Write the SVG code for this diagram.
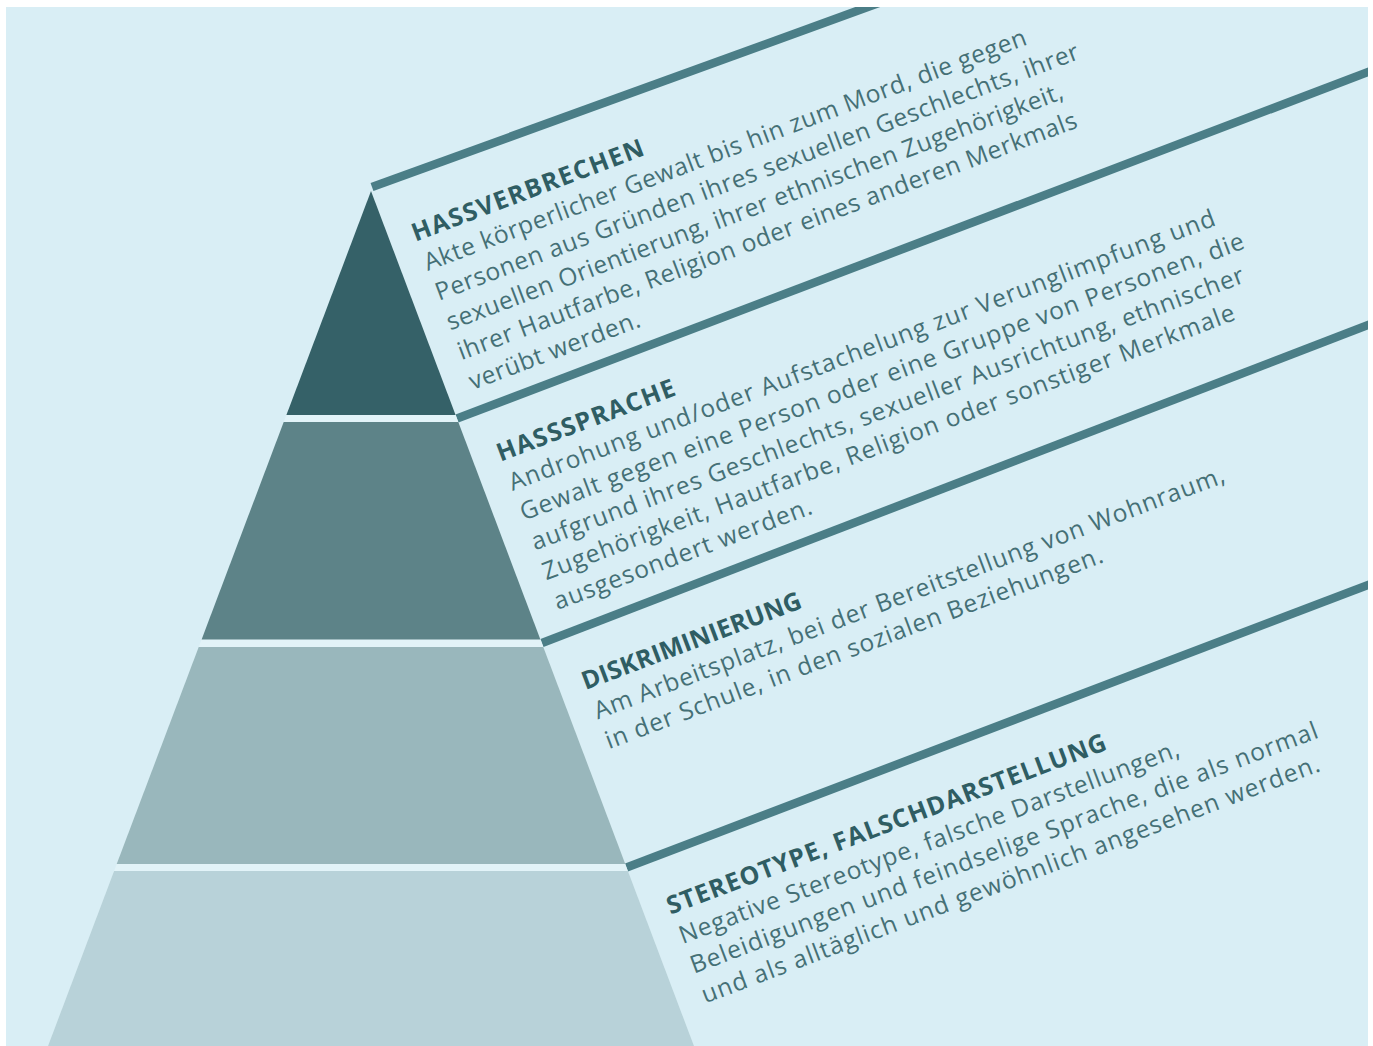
<svg xmlns="http://www.w3.org/2000/svg" width="1373" height="1046" viewBox="0 0 1373 1046">
  <defs>
    <clipPath id="panelClip">
      <rect x="6" y="7" width="1362" height="1039"/>
    </clipPath>
    <style>
      .t { font-family: "Open Sans", "Lato", sans-serif; font-weight: 700; font-size: 25px; fill: #2f5d63; }
      .b { font-family: "Open Sans", "Lato", sans-serif; font-weight: 400; font-size: 24.5px; fill: #457076; }
      .div { stroke: #4b7e87; stroke-width: 8.5; fill: none; stroke-linecap: butt; }
    </style>
  </defs>

  <rect x="0" y="0" width="1373" height="1046" fill="#ffffff"/>
  <rect id="panel" x="6" y="7" width="1362" height="1039" fill="#d9eef5"/>

  <g id="connectors" clip-path="url(#panelClip)">
    <line class="div" x1="372" y1="187" x2="900" y2="-4.7"/>
    <line class="div" x1="457" y1="418.5" x2="1380" y2="67.5"/>
    <line class="div" x1="542" y1="643" x2="1380" y2="320.4"/>
    <line class="div" x1="626.5" y1="867.5" x2="1380" y2="580.4"/>
  </g>

  <g id="pyramid" clip-path="url(#panelClip)">
    <polygon points="371,191 694,1046 48,1046" fill="#e2f3f8"/>
    <polygon id="tier-hassverbrechen" points="371,191 455.6,415 286.4,415" fill="#356168"/>
    <polygon id="tier-hasssprache" points="283.7,422 458.3,422 540.4,639.5 201.6,639.5" fill="#5d8388"/>
    <polygon id="tier-diskriminierung" points="198.7,647 543.3,647 625.3,864 116.7,864" fill="#99b7bc"/>
    <polygon id="tier-stereotype" points="114.1,871 627.9,871 694,1046 48,1046" fill="#b8d2d9"/>
  </g>

  <g id="text-hassverbrechen" transform="translate(415.6,241.7) rotate(-20.7)">
    <text class="t" x="0" y="0" textLength="246" lengthAdjust="spacing">HASSVERBRECHEN</text>
    <text class="b" x="1" y="31.8" textLength="642" lengthAdjust="spacing">Akte körperlicher Gewalt bis hin zum Mord, die gegen</text>
    <text class="b" x="1" y="63.6" textLength="686" lengthAdjust="spacing">Personen aus Gründen ihres sexuellen Geschlechts, ihrer</text>
    <text class="b" x="1" y="95.4" textLength="657" lengthAdjust="spacing">sexuellen Orientierung, ihrer ethnischen Zugehörigkeit,</text>
    <text class="b" x="1" y="127.2" textLength="660" lengthAdjust="spacing">ihrer Hautfarbe, Religion oder eines anderen Merkmals</text>
    <text class="b" x="1" y="159" textLength="181" lengthAdjust="spacing">verübt werden.</text>
  </g>

  <g id="text-hasssprache" transform="translate(500.4,461.7) rotate(-20.7)">
    <text class="t" x="0" y="0" textLength="189" lengthAdjust="spacing">HASSSPRACHE</text>
    <text class="b" x="1" y="31.8" textLength="753" lengthAdjust="spacing">Androhung und/oder Aufstachelung zur Verunglimpfung und</text>
    <text class="b" x="1" y="63.6" textLength="772" lengthAdjust="spacing">Gewalt gegen eine Person oder eine Gruppe von Personen, die</text>
    <text class="b" x="1" y="95.4" textLength="760" lengthAdjust="spacing">aufgrund ihres Geschlechts, sexueller Ausrichtung, ethnischer</text>
    <text class="b" x="1" y="127.2" textLength="738" lengthAdjust="spacing">Zugehörigkeit, Hautfarbe, Religion oder sonstiger Merkmale</text>
    <text class="b" x="1" y="159" textLength="274" lengthAdjust="spacing">ausgesondert werden.</text>
  </g>

  <g id="text-diskriminierung" transform="translate(585.6,690) rotate(-20.7)">
    <text class="t" x="0" y="0" textLength="233" lengthAdjust="spacing">DISKRIMINIERUNG</text>
    <text class="b" x="1" y="31.8" textLength="672" lengthAdjust="spacing">Am Arbeitsplatz, bei der Bereitstellung von Wohnraum,</text>
    <text class="b" x="1" y="63.6" textLength="530" lengthAdjust="spacing">in der Schule, in den sozialen Beziehungen.</text>
  </g>

  <g id="text-stereotype" transform="translate(670.5,914.7) rotate(-20.7)">
    <text class="t" x="0" y="0" textLength="468" lengthAdjust="spacing">STEREOTYPE, FALSCHDARSTELLUNG</text>
    <text class="b" x="1" y="31.8" textLength="533" lengthAdjust="spacing">Negative Stereotype, falsche Darstellungen,</text>
    <text class="b" x="1" y="63.6" textLength="669" lengthAdjust="spacing">Beleidigungen und feindselige Sprache, die als normal</text>
    <text class="b" x="1" y="95.4" textLength="659" lengthAdjust="spacing">und als alltäglich und gewöhnlich angesehen werden.</text>
  </g>
</svg>
